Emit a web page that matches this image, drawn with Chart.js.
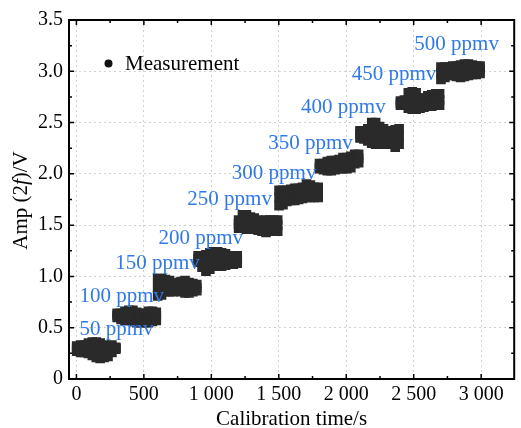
<!DOCTYPE html>
<html><head><meta charset="utf-8">
<script src="https://cdn.jsdelivr.net/npm/chart.js@4.4.0/dist/chart.umd.min.js"></script>
<style>html,body{margin:0;padding:0;background:#fff}#wrap{width:521px;height:428px;position:relative}</style>
</head><body><div id="wrap"><canvas id="c" width="521" height="428"></canvas></div>
<script>
// ---- data ----
const sampleTimes = [
  2,31,60,89,118,147,176,205,234,263,292,
  302,331,360,389,418,447,476,505,534,563,592,
  602,631,660,689,718,747,776,805,834,863,892,
  902,931,960,989,1018,1047,1076,1105,1134,1163,1192,
  1202,1231,1260,1289,1318,1347,1376,1405,1434,1463,1492,
  1502,1531,1560,1589,1618,1647,1676,1705,1734,1763,1792,
  1802,1831,1860,1889,1918,1947,1976,2005,2034,2063,2092,
  2102,2131,2160,2189,2218,2247,2276,2305,2334,2363,2392,
  2402,2431,2460,2489,2518,2547,2576,2605,2634,2663,2692,
  2702,2731,2760,2789,2818,2847,2876,2905,2934,2963,2992
];
const ampHigh = [
  0.32,0.33,0.33,0.35,0.36,0.36,0.35,0.33,0.32,0.33,0.31,
  0.64,0.64,0.66,0.67,0.67,0.65,0.64,0.64,0.66,0.66,0.65,
  0.98,0.98,0.97,0.96,0.94,0.93,0.95,0.96,0.94,0.93,0.92,
  1.20,1.20,1.21,1.23,1.24,1.24,1.23,1.22,1.20,1.20,1.20,
  1.55,1.60,1.60,1.58,1.57,1.55,1.54,1.55,1.55,1.55,1.55,
  1.84,1.84,1.84,1.85,1.86,1.86,1.87,1.90,1.89,1.87,1.87,
  2.10,2.10,2.12,2.13,2.13,2.14,2.16,2.16,2.17,2.19,2.19,
  2.42,2.42,2.44,2.50,2.50,2.46,2.44,2.42,2.41,2.43,2.44,
  2.71,2.72,2.79,2.80,2.79,2.74,2.74,2.76,2.77,2.78,2.78,
  3.04,3.04,3.04,3.05,3.05,3.06,3.07,3.07,3.06,3.05,3.05
];
const ampMid = [
  0.30,0.29,0.30,0.30,0.29,0.28,0.27,0.27,0.28,0.29,0.30,
  0.62,0.61,0.62,0.61,0.62,0.60,0.59,0.60,0.60,0.61,0.61,
  0.89,0.90,0.91,0.90,0.89,0.90,0.90,0.89,0.89,0.89,0.89,
  1.17,1.15,1.13,1.15,1.17,1.17,1.16,1.17,1.16,1.16,1.17,
  1.51,1.53,1.52,1.51,1.52,1.50,1.49,1.49,1.50,1.49,1.50,
  1.77,1.78,1.79,1.80,1.79,1.81,1.82,1.83,1.82,1.82,1.83,
  2.07,2.08,2.07,2.08,2.09,2.09,2.10,2.11,2.11,2.14,2.15,
  2.39,2.38,2.38,2.41,2.39,2.37,2.36,2.36,2.35,2.36,2.37,
  2.69,2.70,2.72,2.71,2.72,2.70,2.70,2.71,2.72,2.73,2.72,
  2.98,2.99,3.00,3.01,3.00,3.00,3.01,3.01,3.02,3.01,3.02
];
const ampLow = [
  0.27,0.26,0.26,0.25,0.23,0.21,0.20,0.21,0.22,0.26,0.29,
  0.60,0.58,0.57,0.57,0.56,0.55,0.55,0.55,0.55,0.56,0.57,
  0.81,0.82,0.85,0.85,0.85,0.86,0.85,0.84,0.84,0.85,0.86,
  1.14,1.09,1.05,1.07,1.10,1.10,1.10,1.11,1.12,1.12,1.13,
  1.47,1.47,1.46,1.46,1.46,1.45,1.44,1.43,1.44,1.44,1.44,
  1.69,1.70,1.73,1.74,1.74,1.75,1.76,1.77,1.77,1.77,1.77,
  2.05,2.04,2.03,2.03,2.04,2.05,2.05,2.05,2.06,2.10,2.11,
  2.35,2.34,2.32,2.30,2.29,2.29,2.29,2.30,2.29,2.26,2.29,
  2.67,2.67,2.64,2.63,2.63,2.64,2.65,2.66,2.66,2.67,2.67,
  2.92,2.94,2.96,2.96,2.95,2.94,2.95,2.96,2.97,2.97,2.98
];
const concLabels = ['50 ppmv','100 ppmv','150 ppmv','200 ppmv','250 ppmv','300 ppmv','350 ppmv','400 ppmv','450 ppmv','500 ppmv'];
const labelTime = [22, 22, 288, 608, 822, 1152, 1422, 1665, 2040, 2505];
const labelAmp  = [0.433, 0.753, 1.075, 1.319, 1.70, 1.953, 2.245, 2.596, 2.918, 3.21];
const xTickValues = [0, 500, 1000, 1500, 2000, 2500, 3000];
const xTickLabels = ['0', '500', '1 000', '1 500', '2 000', '2 500', '3 000'];
const xMinorTicks = [250, 750, 1250, 1750, 2250, 2750];
const yTickValues = [0, 0.5, 1.0, 1.5, 2.0, 2.5, 3.0, 3.5];
const yTickLabels = ['0', '0.5', '1.0', '1.5', '2.0', '2.5', '3.0', '3.5'];
const yMinorTicks = [0.25, 0.75, 1.25, 1.75, 2.25, 2.75, 3.25];
const seriesName = 'Measurement';
const xTitle = 'Calibration time/s';

// ---- build chart data ----
const points = [];
for (let i = 0; i < sampleTimes.length; i++) {
  points.push({x: sampleTimes[i], y: ampHigh[i]});
  points.push({x: sampleTimes[i], y: ampMid[i]});
  points.push({x: sampleTimes[i], y: ampLow[i]});
}

const SERIF = "'Liberation Serif', 'Times New Roman', serif";
const BLUE = '#3079e8';

const decorPlugin = {
  id: 'decor',
  afterDatasetsDraw(chart) {
    const {ctx, chartArea: a, scales: {x, y}} = chart;
    ctx.save();
    // concentration labels
    ctx.fillStyle = BLUE;
    ctx.font = '21px ' + SERIF;
    ctx.textAlign = 'left';
    ctx.textBaseline = 'alphabetic';
    concLabels.forEach((t, i) => ctx.fillText(t, x.getPixelForValue(labelTime[i]), y.getPixelForValue(labelAmp[i])));
    // frame
    ctx.strokeStyle = '#000';
    ctx.lineWidth = 2;
    ctx.strokeRect(a.left, a.top, a.right - a.left, a.bottom - a.top);
    // inward ticks
    ctx.lineWidth = 1.5;
    ctx.beginPath();
    const xt = (v, len) => { const p = x.getPixelForValue(v); ctx.moveTo(p, a.bottom); ctx.lineTo(p, a.bottom - len); ctx.moveTo(p, a.top); ctx.lineTo(p, a.top + len); };
    const yt = (v, len) => { const p = y.getPixelForValue(v); ctx.moveTo(a.left, p); ctx.lineTo(a.left + len, p); ctx.moveTo(a.right, p); ctx.lineTo(a.right - len, p); };
    xTickValues.forEach(v => xt(v, 5));
    xMinorTicks.forEach(v => xt(v, 3));
    yTickValues.forEach(v => yt(v, 5));
    yMinorTicks.forEach(v => yt(v, 3));
    ctx.stroke();
    // legend
    ctx.fillStyle = '#111';
    ctx.beginPath();
    ctx.arc(108.5, 63.5, 4, 0, Math.PI * 2);
    ctx.fill();
    ctx.fillStyle = '#000';
    ctx.font = '21px ' + SERIF;
    ctx.fillText(chart.data.datasets[0].label, 125, 70);
    // x title
    ctx.textAlign = 'center';
    ctx.fillText(xTitle, (a.left + a.right) / 2, 425);
    // y title with italic f
    ctx.translate(26.5, (a.top + a.bottom) / 2 + 1);
    ctx.rotate(-Math.PI / 2);
    ctx.textAlign = 'left';
    const parts = [['Amp (2', ''], ['f', 'italic '], [')/V', '']];
    let total = 0;
    parts.forEach(p => { ctx.font = p[1] + '21px ' + SERIF; total += ctx.measureText(p[0]).width; });
    let cx = -total / 2;
    parts.forEach(p => { ctx.font = p[1] + '21px ' + SERIF; ctx.fillText(p[0], cx, 0); cx += ctx.measureText(p[0]).width; });
    ctx.restore();
  }
};

new Chart(document.getElementById('c'), {
  type: 'scatter',
  data: {datasets: [{
    label: seriesName,
    data: points,
    pointStyle: 'rect',
    pointRadius: 6.8,
    pointHoverRadius: 6.8,
    backgroundColor: '#2a2a2a',
    borderWidth: 0,
    pointBorderWidth: 0
  }]},
  options: {
    responsive: false,
    animation: false,
    events: [],
    layout: {padding: {top: 20, right: 2, left: 0, bottom: 0}},
    plugins: {legend: {display: false}, tooltip: {enabled: false}},
    scales: {
      x: {
        type: 'linear', min: -55, max: 3245,
        afterBuildTicks: s => { s.ticks = xTickValues.map(v => ({value: v})); },
        afterFit: s => { s.height = 49; },
        ticks: {
          callback: v => xTickLabels[xTickValues.indexOf(v)],
          font: {family: SERIF, size: 20}, color: '#000', padding: 4,
          maxRotation: 0, autoSkip: false
        },
        grid: {color: '#d2d2d2', lineWidth: 1, drawTicks: false},
        border: {display: false, dash: [2, 3]}
      },
      y: {
        type: 'linear', min: 0, max: 3.5,
        afterBuildTicks: s => { s.ticks = yTickValues.map(v => ({value: v})); },
        afterFit: s => { s.width = 69; },
        ticks: {
          callback: v => yTickLabels[yTickValues.indexOf(v)],
          font: {family: SERIF, size: 20}, color: '#000', padding: 6, autoSkip: false
        },
        grid: {color: '#d2d2d2', lineWidth: 1, drawTicks: false},
        border: {display: false, dash: [2, 3]}
      }
    }
  },
  plugins: [decorPlugin]
});
</script>
</body></html>
